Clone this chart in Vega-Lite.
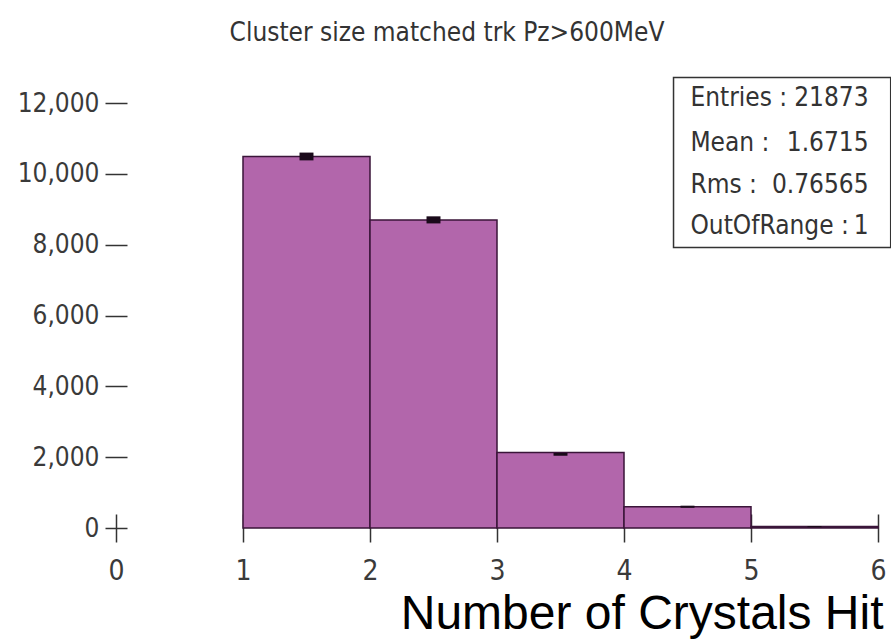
{
  "$schema": "https://vega.github.io/schema/vega-lite/v6.json",
  "width": 762,
  "height": 425,
  "autosize": {"type": "none"},
  "padding": {"left": 116, "top": 103, "right": 13, "bottom": 114},
  "background": "white",
  "config": {"view": {"stroke": null}},
  "title": {
    "text": "Cluster size matched trk Pz>600MeV",
    "font": "DejaVu Sans Condensed, sans-serif",
    "fontSize": 26,
    "fontWeight": "normal",
    "color": "#333333",
    "anchor": "middle",
    "frame": "group",
    "dx": -50,
    "baseline": "bottom",
    "offset": 5
  },
  "datasets": {
    "bins": [
      {"lo": 1, "hi": 2, "count": 10490, "elo": 10380, "ehi": 10600, "clo": 1.445, "chi": 1.555},
      {"lo": 2, "hi": 3, "count": 8700, "elo": 8600, "ehi": 8800, "clo": 2.445, "chi": 2.555},
      {"lo": 3, "hi": 4, "count": 2130, "elo": 2040, "ehi": 2120, "clo": 3.445, "chi": 3.555},
      {"lo": 4, "hi": 5, "count": 600, "elo": 570, "ehi": 630, "clo": 4.445, "chi": 4.555},
      {"lo": 5, "hi": 6, "count": 40, "elo": 25, "ehi": 55, "clo": 5.445, "chi": 5.555}
    ],
    "stats": [
      {"label": "Entries :", "value": "21873", "y": 12154},
      {"label": "Mean :", "value": "1.6715", "y": 10870},
      {"label": "Rms :", "value": "0.76565", "y": 9698},
      {"label": "OutOfRange :", "value": "1", "y": 8527}
    ],
    "box": [{"x1": 4.39, "x2": 6.1, "y1": 7919, "y2": 12719}]
  },
  "layer": [
    {
      "data": {"name": "bins"},
      "mark": {"type": "bar", "fill": "#b266ab", "stroke": "#3a1539", "strokeWidth": 1.5},
      "encoding": {
        "x": {
          "field": "lo", "type": "quantitative",
          "scale": {"domain": [0, 6], "nice": false, "zero": false},
          "axis": {
            "values": [0, 1, 2, 3, 4, 5, 6],
            "format": "d",
            "orient": "bottom",
            "offset": -14,
            "tickSize": 28,
            "tickWidth": 1.5,
            "tickColor": "#333333",
            "domain": false,
            "grid": false,
            "labelFont": "DejaVu Sans Condensed, sans-serif",
            "labelFontSize": 28,
            "labelColor": "#3a3a3a",
            "labelPadding": 15,
            "labelFlush": false,
            "title": "Number of Crystals Hit",
            "titleFont": "Liberation Sans, Arial, sans-serif",
            "titleFontSize": 48,
            "titleFontWeight": "normal",
            "titleColor": "#000000",
            "titleAnchor": "end",
            "titleAlign": "right",
            "titleX": 767,
            "titlePadding": 5,
            "zindex": 0
          }
        },
        "x2": {"field": "hi"},
        "y": {
          "field": "count", "type": "quantitative",
          "scale": {"domain": [0, 12000], "nice": false},
          "axis": {
            "values": [0, 2000, 4000, 6000, 8000, 10000, 12000],
            "format": ",d",
            "orient": "left",
            "offset": -11,
            "tickSize": 22,
            "tickWidth": 1.5,
            "tickColor": "#333333",
            "domain": false,
            "grid": false,
            "labelFont": "DejaVu Sans Condensed, sans-serif",
            "labelFontSize": 26,
            "labelColor": "#3a3a3a",
            "labelPadding": 6,
            "title": null,
            "zindex": 0
          }
        },
        "y2": {"datum": 0}
      }
    },
    {
      "data": {"name": "bins"},
      "mark": {"type": "rect", "fill": "#1a0a1a"},
      "encoding": {
        "x": {"field": "clo", "type": "quantitative"},
        "x2": {"field": "chi"},
        "y": {"field": "elo", "type": "quantitative"},
        "y2": {"field": "ehi"}
      }
    },
    {
      "mark": {"type": "rule", "stroke": "#222222", "strokeWidth": 1.5},
      "encoding": {
        "x": {"datum": 0, "type": "quantitative"},
        "y": {"datum": 0, "type": "quantitative"},
        "y2": {"datum": 12000}
      }
    },
    {
      "mark": {"type": "rule", "stroke": "#111111", "strokeWidth": 3},
      "encoding": {
        "x": {"datum": 0, "type": "quantitative"},
        "x2": {"datum": 6},
        "y": {"datum": 0, "type": "quantitative"}
      }
    },
    {
      "data": {"name": "box"},
      "mark": {"type": "rect", "fill": "white", "stroke": "#333333", "strokeWidth": 1.5},
      "encoding": {
        "x": {"field": "x1", "type": "quantitative"},
        "x2": {"field": "x2"},
        "y": {"field": "y1", "type": "quantitative"},
        "y2": {"field": "y2"}
      }
    },
    {
      "data": {"name": "stats"},
      "mark": {"type": "text", "align": "left", "baseline": "middle", "font": "DejaVu Sans Condensed, sans-serif", "fontSize": 26, "fill": "#333333"},
      "encoding": {
        "x": {"datum": 4.523, "type": "quantitative"},
        "y": {"field": "y", "type": "quantitative"},
        "text": {"field": "label"}
      }
    },
    {
      "data": {"name": "stats"},
      "mark": {"type": "text", "align": "right", "baseline": "middle", "font": "DejaVu Sans Condensed, sans-serif", "fontSize": 26, "fill": "#333333"},
      "encoding": {
        "x": {"datum": 5.926, "type": "quantitative"},
        "y": {"field": "y", "type": "quantitative"},
        "text": {"field": "value"}
      }
    }
  ]
}
